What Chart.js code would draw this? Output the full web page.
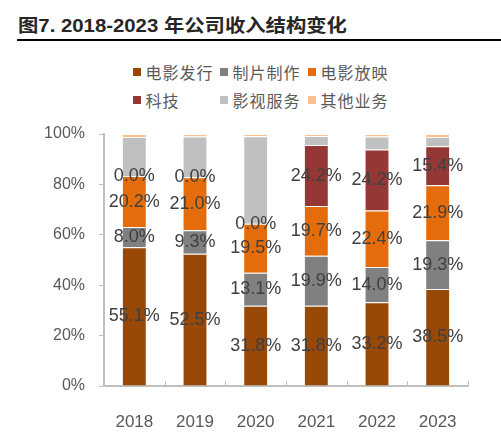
<!DOCTYPE html>
<html>
<head>
<meta charset="utf-8">
<script src="https://cdn.jsdelivr.net/npm/chart.js@4"></script>
<style>
  html, body { margin: 0; padding: 0; background: #fff; }
  #wrap { position: relative; width: 501px; height: 436px; overflow: hidden; }
  #chart { position: absolute; left: 0; top: 0; }
  #title { position: absolute; left: 18px; top: 17px; font: bold 18px "Liberation Sans", "Noto Sans CJK SC", sans-serif;
           color: #262626; line-height: 18px; white-space: nowrap; transform: scaleX(1.13); transform-origin: 0 0; }
  #rule { position: absolute; left: 17px; top: 39px; width: 484px; height: 2px; background: #000; }
  .lg { position: absolute; font: 16px "Noto Sans CJK SC", sans-serif; color: #595959; letter-spacing: 1px;
        white-space: nowrap; line-height: 16px; }
  .lg i { position: absolute; left: -12.5px; top: 4px; width: 8px; height: 8px; }
</style>
</head>
<body>
<div id="wrap">
  <div id="title">图7. 2018-2023 年公司收入结构变化</div>
  <div id="rule"></div>
  <div id="legend"></div>
  <canvas id="chart" width="501" height="436"></canvas>
</div>
<script>
// Revenue structure by year (%)
const years = ['2018', '2019', '2020', '2021', '2022', '2023'];
const seriesNames = ['电影发行', '制片制作', '电影放映', '科技', '影视服务', '其他业务'];
const filmDistribution = [55.1, 52.5, 31.8, 31.8, 33.2, 38.5];
const production = [8.0, 9.3, 13.1, 19.9, 14.0, 19.3];
const cinema = [20.2, 21.0, 19.5, 19.7, 22.4, 21.9];
const technology = [0.0, 0.0, 0.0, 24.2, 24.2, 15.4];
const filmServices = [15.5, 16.2, 34.7, 3.6, 5.2, 3.7];
const otherBusiness = [1.2, 1.0, 0.9, 0.8, 1.0, 1.2];
const yTicks = [0, 20, 40, 60, 80, 100];

const seriesColors = ['#984807', '#808080', '#E46C0A', '#953735', '#C0C0C0', '#FAC090'];
const seriesValues = [filmDistribution, production, cinema, technology, filmServices, otherBusiness];
const labelledSeries = 4; // only the first four series carry value labels

// legend, laid out as a 3 x 2 grid
const legendCols = [133, 220, 308];
const legendRows = [71.7, 100];
const legend = document.getElementById('legend');
seriesNames.forEach((name, i) => {
    const el = document.createElement('span');
    el.className = 'lg';
    el.style.left = (legendCols[i % 3] + 12.5) + 'px';
    el.style.top = (legendRows[Math.floor(i / 3)] - 8) + 'px';
    el.innerHTML = `<i style="background:${seriesColors[i]}"></i>${name}`;
    legend.appendChild(el);
});

// value labels in the middle of each segment
const segmentLabels = {
    id: 'segmentLabels',
    afterDatasetsDraw(chart) {
        const ctx = chart.ctx;
        ctx.save();
        ctx.font = '18px "Liberation Sans", Arial, sans-serif';
        ctx.fillStyle = '#404040';
        ctx.textAlign = 'center';
        ctx.textBaseline = 'middle';
        for (let d = 0; d < labelledSeries; d++) {
            const meta = chart.getDatasetMeta(d);
            meta.data.forEach((bar, i) => {
                const p = bar.getProps(['x', 'y', 'base'], true);
                const v = chart.data.datasets[d].data[i];
                ctx.fillText(v.toFixed(1) + '%', p.x, (p.y + p.base) / 2);
            });
        }
        ctx.restore();
    }
};

// short category tick marks pointing up from the x axis
const innerTicks = {
    id: 'innerTicks',
    afterDraw(chart) {
        const x = chart.scales.x, ctx = chart.ctx;
        const n = x.ticks.length, step = x.width / n;
        ctx.save();
        ctx.strokeStyle = '#bfbfbf';
        ctx.lineWidth = 1;
        for (let i = 0; i <= n; i++) {
            const px = Math.round(x.left + i * step) + 0.5;
            ctx.beginPath();
            ctx.moveTo(px, x.top);
            ctx.lineTo(px, x.top - 5);
            ctx.stroke();
        }
        ctx.restore();
    }
};

new Chart(document.getElementById('chart').getContext('2d'), {
    type: 'bar',
    data: {
        labels: years,
        datasets: seriesNames.map((name, i) => ({
            label: name,
            data: seriesValues[i],
            backgroundColor: seriesColors[i],
            borderColor: 'rgba(255,255,255,0.45)',
            borderWidth: 1,
            barPercentage: 0.41,
            categoryPercentage: 1
        }))
    },
    options: {
        responsive: false,
        animation: false,
        layout: { padding: { top: 134, right: 33, bottom: 0, left: 0 } },
        plugins: { legend: { display: false }, tooltip: { enabled: false } },
        scales: {
            x: {
                stacked: true,
                grid: { display: true, drawOnChartArea: false, drawTicks: false },
                border: { display: true, color: '#bfbfbf', width: 2 },
                ticks: { color: '#595959', padding: 26, font: { family: '"Liberation Sans", Arial', size: 17 } },
                afterFit(s) { s.height = 50; }
            },
            y: {
                stacked: true,
                min: 0,
                max: 100,
                afterBuildTicks(s) { s.ticks = yTicks.map(v => ({ value: v })); },
                grid: { display: true, drawOnChartArea: false, drawTicks: true, tickLength: 5, color: '#bfbfbf' },
                border: { display: true, color: '#bfbfbf', width: 2 },
                ticks: {
                    color: '#595959', padding: 14,
                    font: { family: '"Liberation Sans", Arial', size: 16 },
                    callback: v => v + '%'
                },
                afterFit(s) { s.width = 104; }
            }
        }
    },
    plugins: [segmentLabels, innerTicks]
});
</script>
</body>
</html>
